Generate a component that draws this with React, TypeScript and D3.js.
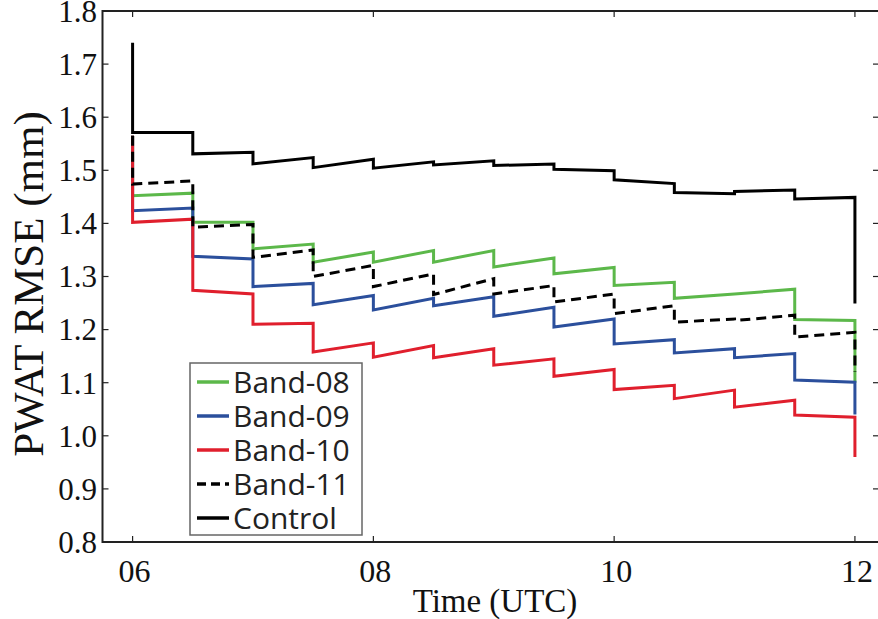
import React from "react";
import * as d3 from "d3";

// Analysis cycle boundaries (hours UTC)
const cycleTimes = [6, 6.5, 7, 7.5, 8, 8.5, 9, 9.5, 10, 10.5, 11, 11.5, 12];
const xTicks = [6, 8, 10, 12];
const yTicks = [0.8, 0.9, 1.0, 1.1, 1.2, 1.3, 1.4, 1.5, 1.6, 1.7, 1.8];

// Value before first analysis / after last analysis
const seriesNames = ["Band-08", "Band-09", "Band-10", "Band-11", "Control"];
const initialValues = [1.565, 1.565, 1.565, 1.565, 1.74];
const finalValues = [1.10, 1.04, 0.96, 1.12, 1.249];

// Value at start and end of each half-hour window
const band08Start = [1.452, 1.402, 1.352, 1.327, 1.327, 1.327, 1.318, 1.305, 1.283, 1.259, 1.267, 1.219];
const band08End = [1.457, 1.402, 1.361, 1.346, 1.349, 1.349, 1.335, 1.317, 1.289, 1.267, 1.276, 1.217];
const band09Start = [1.424, 1.338, 1.281, 1.247, 1.237, 1.245, 1.225, 1.205, 1.173, 1.156, 1.147, 1.105];
const band09End = [1.429, 1.333, 1.287, 1.264, 1.259, 1.262, 1.242, 1.220, 1.181, 1.164, 1.155, 1.101];
const band10Start = [1.402, 1.274, 1.210, 1.158, 1.148, 1.147, 1.133, 1.112, 1.087, 1.070, 1.054, 1.039];
const band10End = [1.408, 1.267, 1.212, 1.175, 1.170, 1.164, 1.145, 1.125, 1.095, 1.086, 1.067, 1.035];
const band11Start = [1.474, 1.393, 1.336, 1.300, 1.281, 1.266, 1.267, 1.252, 1.230, 1.214, 1.217, 1.186];
const band11End = [1.480, 1.398, 1.350, 1.321, 1.305, 1.296, 1.283, 1.267, 1.245, 1.220, 1.227, 1.195];
const controlStart = [1.571, 1.531, 1.512, 1.505, 1.504, 1.510, 1.509, 1.502, 1.482, 1.458, 1.460, 1.446];
const controlEnd = [1.571, 1.534, 1.524, 1.521, 1.516, 1.518, 1.512, 1.499, 1.475, 1.456, 1.463, 1.449];

const seriesStarts = [band08Start, band09Start, band10Start, band11Start, controlStart];
const seriesEnds = [band08End, band09End, band10End, band11End, controlEnd];
const seriesColors = ["#5cb84a", "#2b4f9c", "#e01f2d", "#000000", "#000000"];
const seriesDash = [null, null, null, "10,6", null];

const W = 878;
const H = 619;
const left = 102.5;
const right = 879;
const top = 11;
const bottom = 542;

export default function App() {
  const x = d3.scaleLinear().domain([5.75, 12.2]).range([left, right]);
  const y = d3.scaleLinear().domain([0.8, 1.8]).range([bottom, top]);

  const line = d3
    .line<[number, number]>()
    .x((d) => x(d[0]))
    .y((d) => y(d[1]))
    .curve(d3.curveLinear);

  const buildPoints = (i: number): [number, number][] => {
    const pts: [number, number][] = [[cycleTimes[0], initialValues[i]]];
    const s = seriesStarts[i];
    const e = seriesEnds[i];
    for (let k = 0; k < s.length; k++) {
      pts.push([cycleTimes[k], s[k]]);
      pts.push([cycleTimes[k + 1], e[k]]);
    }
    pts.push([cycleTimes[cycleTimes.length - 1], finalValues[i]]);
    return pts;
  };

  const serif = "'Liberation Serif', 'Times New Roman', serif";
  const sans = "'Open Sans', 'Liberation Sans', sans-serif";

  const legendX = 190;
  const legendY = 363;
  const legendW = 172;
  const legendH = 172;
  const rowH = 34;

  return (
    <svg
      width={W}
      height={H}
      style={{ position: "absolute", left: 0, top: 0, background: "#fff" }}
    >
      <rect x={0} y={0} width={W} height={H} fill="#fff" />
      {/* series */}
      {seriesNames.map((name, i) => (
        <path
          key={name}
          d={line(buildPoints(i)) || ""}
          fill="none"
          stroke={seriesColors[i]}
          strokeWidth={3}
          strokeDasharray={seriesDash[i] || undefined}
          strokeLinejoin="miter"
        />
      ))}
      {/* frame */}
      <rect
        x={left}
        y={top}
        width={right - left}
        height={bottom - top}
        fill="none"
        stroke="#222"
        strokeWidth={2}
      />
      {/* x ticks */}
      {xTicks.map((t) => (
        <g key={"xt" + t}>
          <line x1={x(t)} x2={x(t)} y1={bottom} y2={bottom - 6} stroke="#222" strokeWidth={1.2} />
          <line x1={x(t)} x2={x(t)} y1={top} y2={top + 6} stroke="#222" strokeWidth={1.2} />
          <text
            x={x(t) + 2}
            y={582}
            textAnchor="middle"
            fontFamily={serif}
            fontSize={32}
            fill="#111"
          >
            {d3.format("02d")(t)}
          </text>
        </g>
      ))}
      {/* y ticks */}
      {yTicks.map((v) => (
        <g key={"yt" + v}>
          <line x1={left} x2={left + 6} y1={y(v)} y2={y(v)} stroke="#222" strokeWidth={1.2} />
          <line x1={right} x2={right - 6} y1={y(v)} y2={y(v)} stroke="#222" strokeWidth={1.2} />
          <text
            x={97}
            y={y(v)}
            dy="0.35em"
            textAnchor="end"
            fontFamily={serif}
            fontSize={31}
            fill="#111"
          >
            {d3.format(".1f")(v)}
          </text>
        </g>
      ))}
      {/* axis titles */}
      <text
        x={495}
        y={612}
        textAnchor="middle"
        fontFamily={serif}
        fontSize={33}
        fill="#111"
      >
        Time (UTC)
      </text>
      <text
        transform={`translate(43, 284) rotate(-90)`}
        textAnchor="middle"
        fontFamily={serif}
        fontSize={43}
        fill="#111"
      >
        PWAT RMSE (mm)
      </text>
      {/* legend */}
      <rect
        x={legendX}
        y={legendY}
        width={legendW}
        height={legendH}
        fill="#fff"
        stroke="#666"
        strokeWidth={1.5}
      />
      {seriesNames.map((name, i) => {
        const cy = legendY + 19 + i * rowH;
        return (
          <g key={"lg" + name}>
            <line
              x1={197}
              x2={229}
              y1={cy}
              y2={cy}
              stroke={seriesColors[i]}
              strokeWidth={3.5}
              strokeDasharray={seriesDash[i] ? "9,5" : undefined}
            />
            <text
              x={233}
              y={cy}
              dy="0.36em"
              fontFamily={sans}
              fontSize={30}
              fill="#222"
            >
              {name}
            </text>
          </g>
        );
      })}
    </svg>
  );
}
